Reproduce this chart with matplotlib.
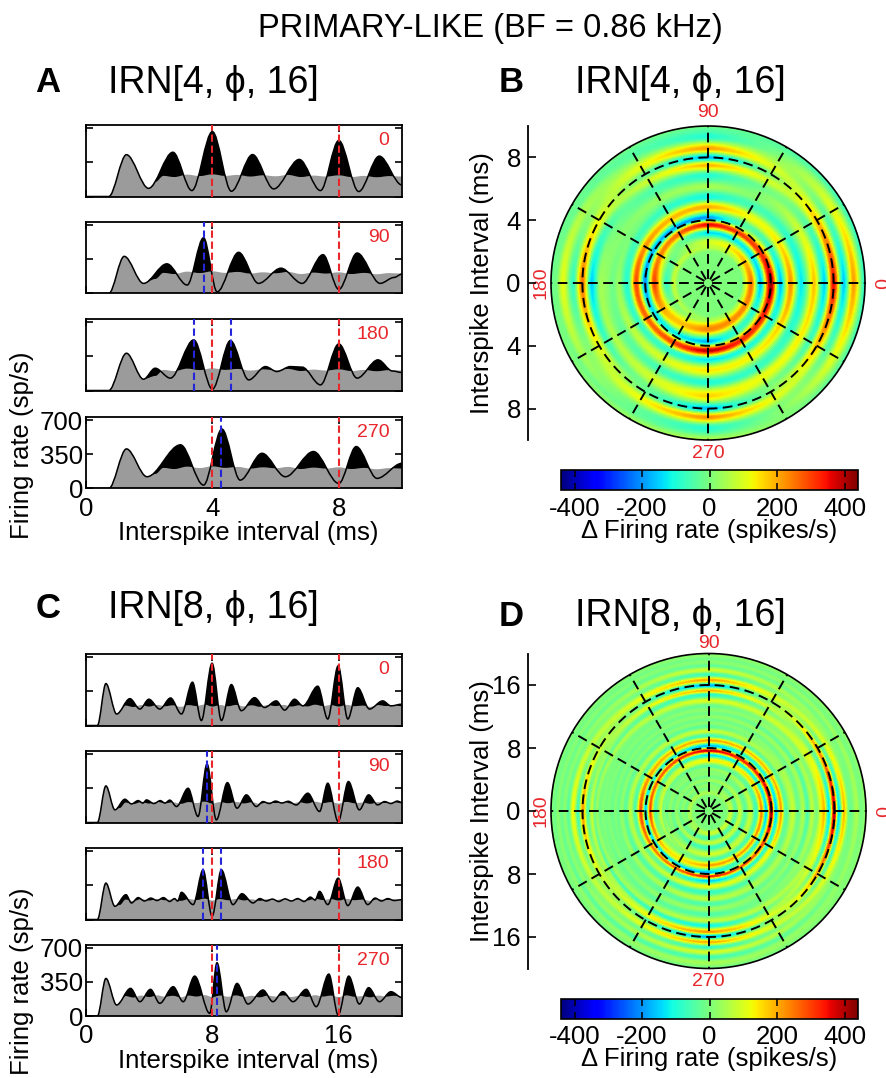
import numpy as np
import matplotlib
matplotlib.use('Agg')
import matplotlib.pyplot as plt
from matplotlib.path import Path
from matplotlib.patches import PathPatch

plt.rcParams['font.family'] = ['Liberation Sans', 'DejaVu Sans']
plt.rcParams['axes.unicode_minus'] = False

# ---- data (ms, spikes/s) ----
PHASES = [0, 90, 180, 270]
PHASE_LABELS = ['0', '90', '180', '270']

# IRN[4, phi, 16]: black traces (extrema of the interval histogram)
A0_X = [0, 0.72, 1.28, 1.98, 2.75, 3.35, 4.0, 4.6, 5.27, 5.94, 6.75, 7.42, 8.0, 8.63, 9.28, 10.0]
A0_Y = [0, 0, 430, 84, 455, 61, 667, 54, 431, 78, 381, 61, 576, 51, 415, 118]
A90_X = [0, 0.72, 1.21, 1.82, 2.56, 3.2, 3.72, 4.15, 4.83, 5.46, 6.17, 6.84, 7.5, 8.0, 8.58, 9.31, 9.75, 10.0]
A90_Y = [0, 0, 382, 104, 305, 87, 573, 17, 423, 104, 260, 104, 399, 42, 416, 104, 165, 200]
A180_X = [0, 0.72, 1.28, 1.82, 2.19, 2.67, 3.41, 4.0, 4.57, 5.15, 5.68, 6.04, 6.47, 6.84, 7.42, 8.0, 8.58, 9.24, 9.7, 10.0]
A180_Y = [0, 0, 383, 116, 229, 127, 520, 14, 513, 109, 246, 195, 246, 240, 58, 479, 127, 315, 200, 185]
A270_X = [0, 0.72, 1.28, 1.93, 2.99, 3.72, 4.3, 4.88, 5.57, 6.31, 7.2, 8.0, 8.55, 9.21, 10.0]
A270_Y = [0, 0, 407, 121, 449, 35, 611, 86, 362, 121, 380, 52, 431, 104, 259]
# reference (gray) response after the first interval peak
GRAY_A_X = [2.2, 2.45, 2.8, 3.2, 3.6, 4.0, 4.4, 4.8, 5.2, 5.6, 6.0, 6.4, 6.8, 7.2, 7.6, 8.0, 8.4, 8.8, 9.2, 9.6, 10.0]
GRAY_A_Y = [150, 212, 200, 225, 210, 228, 212, 222, 205, 218, 208, 222, 200, 215, 205, 218, 200, 212, 198, 210, 205]
GRAY_A_START = 2.05
RED_A = [4, 8]
BLUE_A0, BLUE_A90, BLUE_A180, BLUE_A270 = [], [3.72], [3.41, 4.59], [4.28]

# IRN[8, phi, 16]
C0_X = [0, 0.72, 1.26, 1.94, 2.78, 3.41, 3.98, 4.67, 5.35, 6.04, 6.74, 7.3, 7.98, 8.57, 9.2, 9.83,
        10.67, 11.3, 12.04, 12.57, 13.2, 13.73, 14.67, 15.3, 15.96, 16.57, 17.2, 17.94, 18.78, 19.3, 20.0]
C0_Y = [0, 0, 431, 118, 276, 169, 270, 169, 283, 118, 445, 51, 640, 51, 421, 152,
        286, 185, 253, 158, 270, 202, 404, 67, 613, 67, 388, 169, 253, 202, 219]
C90_X = [0, 0.72, 1.26, 1.83, 2.46, 2.88, 3.3, 3.6, 3.83, 4.3, 4.7, 5.0, 5.3, 5.73, 6.46, 7.09, 7.66, 8.25,
         8.95, 9.56, 10.15, 10.78, 11.2, 11.6, 12.0, 12.4, 12.8, 13.3, 14.04, 14.78, 15.3, 15.96, 16.61,
         17.3, 17.89, 18.46, 18.9, 19.3, 19.7, 20.0]
C90_Y = [0, 0, 376, 130, 239, 191, 225, 200, 232, 195, 225, 200, 230, 164, 352, 62, 602, 27,
         410, 147, 284, 164, 215, 195, 220, 200, 218, 180, 301, 113, 404, 10, 421,
         130, 284, 181, 215, 195, 220, 205]
C180_X = [0, 0.72, 1.26, 1.83, 2.53, 2.88, 3.3, 3.7, 4.1, 4.5, 4.9, 5.3, 5.6, 5.8, 6.04, 6.78, 7.41, 7.98,
          8.57, 9.3, 9.87, 10.57, 11.0, 11.4, 11.8, 12.2, 12.6, 13.0, 13.4, 13.8, 14.2, 14.5, 14.78,
          15.3, 15.96, 16.57, 17.2, 17.83, 18.3, 18.7, 19.1, 19.5, 20.0]
C180_Y = [0, 0, 374, 136, 255, 170, 225, 190, 220, 195, 225, 185, 215, 190, 279, 153, 510, 34,
          510, 153, 265, 170, 215, 190, 210, 185, 212, 190, 215, 185, 230, 200, 289,
          153, 425, 143, 333, 153, 220, 190, 215, 195, 204]
C270_X = [0, 0.72, 1.26, 1.94, 2.82, 3.41, 4.08, 4.67, 5.52, 6.15, 6.88, 7.83, 8.29, 8.88, 9.56, 10.25,
          11.2, 11.83, 12.46, 13.1, 13.94, 14.57, 15.37, 15.96, 16.63, 17.3, 17.89, 18.57, 19.3, 20.0]
C270_Y = [0, 0, 386, 113, 284, 147, 274, 130, 301, 147, 410, 27, 547, 44, 335, 123,
          267, 147, 250, 147, 274, 96, 431, 10, 410, 123, 291, 147, 250, 190]
GRAY_C_X = [2.15, 2.5, 3.0, 3.5, 4.0, 4.5, 5.0, 5.5, 6.0, 6.5, 7.0, 7.5, 8.0, 8.5, 9.0, 9.5, 10.0, 10.5,
            11.0, 11.5, 12.0, 12.5, 13.0, 13.5, 14.0, 14.5, 15.0, 15.5, 16.0, 16.5, 17.0, 17.5, 18.0,
            18.5, 19.0, 19.5, 20.0]
GRAY_C_Y = [150, 205, 190, 210, 195, 212, 198, 208, 192, 210, 200, 215, 195, 210, 198, 212, 196, 208,
            192, 210, 200, 212, 195, 208, 196, 214, 200, 210, 195, 212, 198, 205, 192, 210, 200, 208, 198]
GRAY_C_START = 2.0
RED_C = [8, 16]
BLUE_C0, BLUE_C90, BLUE_C180, BLUE_C270 = [], [7.66], [7.41, 8.57], [8.29]

TRACE_YTICKS = [0, 350, 700]
A_XTICKS = [0, 4, 8]
C_XTICKS = [0, 8, 16]
B_RTICKS = [-8, -4, 0, 4, 8]
D_RTICKS = [-16, -8, 0, 8, 16]
B_RINGS = [4, 8]
D_RINGS = [8, 16]
CBAR_TICKS = [-400, -200, 0, 200, 400]
CLIM = 440

RED = '#e8262b'
BLUE = '#2424d8'
GRAY = '#9b9b9b'

W, H = 886, 1078
fig = plt.figure(figsize=(W / 100, H / 100), dpi=100)


def box(left, top, right, bottom):
    return [left / W, 1 - bottom / H, (right - left) / W, (bottom - top) / H]


def curve_path(xs, ys, close=False):
    # smooth curve through the extrema (flat tangent at each)
    verts = [(xs[0], ys[0])]
    codes = [Path.MOVETO]
    for i in range(len(xs) - 1):
        dx = xs[i + 1] - xs[i]
        verts += [(xs[i] + dx / 3, ys[i]), (xs[i + 1] - dx / 3, ys[i + 1]), (xs[i + 1], ys[i + 1])]
        codes += [Path.CURVE4] * 3
    if close:
        verts += [(xs[-1], 0), (xs[0], 0), (xs[0], 0)]
        codes += [Path.LINETO, Path.LINETO, Path.CLOSEPOLY]
    return Path(verts, codes)


def curve_at(xs, ys, r):
    # same curve as curve_path, evaluated at r
    xs, ys = np.asarray(xs, float), np.asarray(ys, float)
    pos = np.interp(r, xs, np.arange(len(xs)))
    i = np.clip(np.floor(pos).astype(int), 0, len(xs) - 2)
    f = pos - i
    return ys[i] + (ys[i + 1] - ys[i]) * f * f * (3 - 2 * f)


def gray_for(bx, by, gx, gy, start):
    keep = [k for k in range(len(bx)) if bx[k] < start]
    return [bx[k] for k in keep] + list(gx), [by[k] for k in keep] + list(gy)


def trace_panel(rect, bx, by, gx, gy, xmax, xticks, reds, blues, label, bottom):
    ax = fig.add_axes(rect)
    ax.add_patch(PathPatch(curve_path(bx, by, True), fc='k', ec='none', zorder=1))
    ax.add_patch(PathPatch(curve_path(gx, gy, True), fc=GRAY, ec='none', zorder=2))
    ax.add_patch(PathPatch(curve_path(bx, by), fc='none', ec='k', lw=1.1, zorder=3))
    for x in reds:
        ax.axvline(x, color=RED, ls=(0, (3.5, 1.8)), lw=1.5, zorder=4)
    for x in blues:
        ax.axvline(x, color=BLUE, ls=(0, (3.5, 1.8)), lw=1.5, zorder=4)
    ax.text(0.96, 0.78, label, transform=ax.transAxes, ha='right', va='center',
            color=RED, fontsize=14)
    ax.set_xlim(0, xmax)
    ax.set_ylim(0, 735)
    ax.set_xticks(xticks)
    ax.set_yticks(TRACE_YTICKS)
    ax.tick_params(direction='in', top=True, right=True, length=5, width=1.2, labelsize=18.5)
    ax.tick_params(axis='y', pad=2)
    ax.tick_params(axis='x', pad=6)
    if not bottom:
        ax.set_xticklabels([])
        ax.set_yticklabels([])
    for s in ax.spines.values():
        s.set_linewidth(1.3)
    return ax


def polar_panel(rect, yrect, blacks, gx, gy, gstart, rmax, rings, rticks, top_k):
    ax = fig.add_axes(rect, projection='polar')
    r_edges = np.linspace(0, rmax, 401)
    t_edges = np.radians(np.linspace(0, 360, 361))
    rc = 0.5 * (r_edges[1:] + r_edges[:-1])
    tc = np.degrees(0.5 * (t_edges[1:] + t_edges[:-1]))
    prof = []
    for bx, by in blacks:
        fgx, fgy = gray_for(bx, by, gx, gy, gstart)
        prof.append(curve_at(bx, by, rc) - curve_at(fgx, fgy, rc))
    prof.append(prof[0])
    prof = np.array(prof)
    pos = np.interp(tc, PHASES + [360], np.arange(5))
    j = np.minimum(np.floor(pos).astype(int), 3)
    w = pos - j
    C = prof[j].T * (1 - w) + prof[j + 1].T * w
    mesh = ax.pcolormesh(t_edges, r_edges, C, cmap='jet', vmin=-CLIM, vmax=CLIM,
                         shading='flat', rasterized=True)
    # spokes start with a short gap so the centre shows a small star
    for a in range(0, 360, 30):
        ax.plot([np.radians(a)] * 2, [0, rmax], color='k', ls=(5.7, (5.0, 2.8)), lw=1.4)
    th = np.linspace(0, 2 * np.pi, 500)
    for r in rings:
        ax.plot(th, np.full_like(th, r), color='k', ls=(0, (5.0, 2.8)), lw=1.4)
    ax.set_ylim(0, rmax)
    ax.set_xticks([])
    ax.set_yticks([])
    ax.grid(False)
    ax.spines['polar'].set_linewidth(1.2)
    ax.text(np.pi / 2, rmax * top_k, '90', ha='center', va='center', color=RED, fontsize=14, clip_on=False)
    ax.text(3 * np.pi / 2, rmax * 1.085, '270', ha='center', va='center', color=RED, fontsize=14, clip_on=False)
    ax.text(np.pi, rmax * 1.065, '180', ha='center', va='center', color=RED, fontsize=14,
            rotation=90, clip_on=False)
    ax.text(0, rmax * 1.08, '0', ha='center', va='center', color=RED, fontsize=14,
            rotation=-90, clip_on=False)

    yax = fig.add_axes(yrect)
    yax.set_facecolor('none')
    for s in ['top', 'right', 'bottom']:
        yax.spines[s].set_visible(False)
    yax.spines['left'].set_linewidth(1.3)
    yax.set_xticks([])
    yax.set_ylim(-rmax, rmax)
    yax.set_yticks(rticks)
    yax.set_yticklabels([str(abs(t)) for t in rticks])
    yax.tick_params(axis='y', direction='in', length=6, width=1.2, labelsize=18.5, pad=5)
    return mesh


def colorbar(mesh, rect, label_y):
    cax = fig.add_axes(rect)
    cb = fig.colorbar(mesh, cax=cax, orientation='horizontal', ticks=CBAR_TICKS)
    cb.outline.set_linewidth(1.2)
    cax.tick_params(direction='in', top=True, bottom=True, length=5, width=1.1,
                    labelsize=18.5, pad=5)
    fig.text(709.6 / W, 1 - label_y / H, '\u0394 Firing rate (spikes/s)', ha='center',
             va='center', fontsize=18.5)


# ---- titles ----
fig.text(490 / W, 1 - 28 / H, 'PRIMARY-LIKE (BF = 0.86 kHz)', ha='center', va='center', fontsize=23.5)
for letter, lx, tx, y, title in [('A', 48, 213, 83, 'IRN[4, \u03d5, 16]'),
                                 ('B', 511, 680, 83, 'IRN[4, \u03d5, 16]'),
                                 ('C', 48, 213, 608, 'IRN[8, \u03d5, 16]'),
                                 ('D', 511, 680, 616, 'IRN[8, \u03d5, 16]')]:
    fig.text(lx / W, 1 - y / H, letter, ha='center', va='center', fontsize=25, fontweight='bold')
    fig.text(tx / W, 1 - y / H, title, ha='center', va='center', fontsize=27)

# ---- panel A ----
a_blacks = [(A0_X, A0_Y), (A90_X, A90_Y), (A180_X, A180_Y), (A270_X, A270_Y)]
a_blues = [BLUE_A0, BLUE_A90, BLUE_A180, BLUE_A270]
a_tops = [125, 222, 319, 417]
for k in range(4):
    bx, by = a_blacks[k]
    gx, gy = gray_for(bx, by, GRAY_A_X, GRAY_A_Y, GRAY_A_START)
    trace_panel(box(86, a_tops[k], 402, a_tops[k] + 71.5), bx, by, gx, gy, 10, A_XTICKS,
                RED_A, a_blues[k], PHASE_LABELS[k], k == 3)
fig.text(248 / W, 1 - 533 / H, 'Interspike interval (ms)', ha='center', va='center', fontsize=18.5)
fig.text(22 / W, 1 - 445 / H, 'Firing rate (sp/s)', ha='center', va='center', fontsize=18.5, rotation=90)

# ---- panel C ----
c_blacks = [(C0_X, C0_Y), (C90_X, C90_Y), (C180_X, C180_Y), (C270_X, C270_Y)]
c_blues = [BLUE_C0, BLUE_C90, BLUE_C180, BLUE_C270]
c_tops = [654, 751, 848, 944.5]
for k in range(4):
    bx, by = c_blacks[k]
    gx, gy = gray_for(bx, by, GRAY_C_X, GRAY_C_Y, GRAY_C_START)
    trace_panel(box(86, c_tops[k], 402, c_tops[k] + 71.5), bx, by, gx, gy, 20, C_XTICKS,
                RED_C, c_blues[k], PHASE_LABELS[k], k == 3)
fig.text(248 / W, 1 - 1061 / H, 'Interspike interval (ms)', ha='center', va='center', fontsize=18.5)
fig.text(22 / W, 1 - 981 / H, 'Firing rate (sp/s)', ha='center', va='center', fontsize=18.5, rotation=90)

# ---- panel B ----
mesh_b = polar_panel(box(551, 126, 865, 440), box(527.7, 126, 528.2, 440), a_blacks,
                     GRAY_A_X, GRAY_A_Y, GRAY_A_START, 10, B_RINGS, B_RTICKS, 1.085)
fig.text(482 / W, 1 - 283 / H, 'Interspike Interval (ms)', ha='center', va='center', fontsize=18.5, rotation=90)
colorbar(mesh_b, box(561, 470, 858, 490), 531)

# ---- panel D ----
mesh_d = polar_panel(box(551, 653.5, 866, 968.5), box(527.7, 653.5, 528.2, 968.5), c_blacks,
                     GRAY_C_X, GRAY_C_Y, GRAY_C_START, 20, D_RINGS, D_RTICKS, 1.063)
fig.text(482 / W, 1 - 811 / H, 'Interspike Interval (ms)', ha='center', va='center', fontsize=18.5, rotation=90)
colorbar(mesh_d, box(561, 998.5, 858, 1018.5), 1059)

fig.savefig('out.png', dpi=100)
